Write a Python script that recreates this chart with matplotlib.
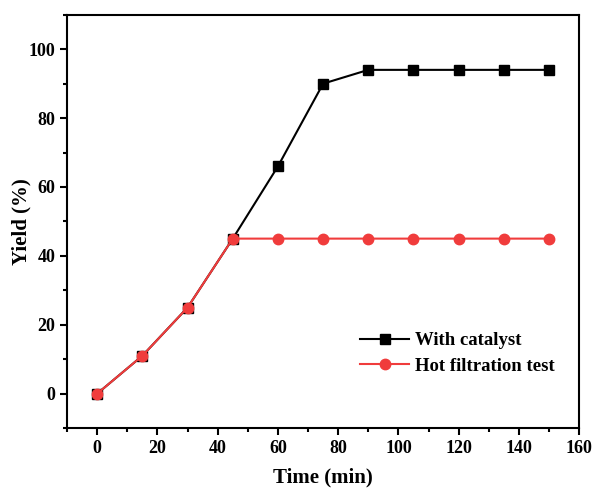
import matplotlib.pyplot as plt
from matplotlib.ticker import MultipleLocator

plt.rcParams['font.family'] = ['Liberation Serif', 'DejaVu Serif']
plt.rcParams['font.weight'] = 'bold'

time = [0, 15, 30, 45, 60, 75, 90, 105, 120, 135, 150]
with_catalyst = [0, 11, 25, 45, 66, 90, 94, 94, 94, 94, 94]
hot_filtration = [0, 11, 25, 45, 45, 45, 45, 45, 45, 45, 45]

fig = plt.figure(figsize=(5.94, 4.92), dpi=100)
ax = fig.add_axes([0.113, 0.13, 0.862, 0.84])

ax.plot(time, with_catalyst, color='black', marker='s', markersize=7,
        linewidth=1.5, label='With catalyst')
ax.plot(time, hot_filtration, color='#f03c3c', marker='o', markersize=7.5,
        linewidth=1.5, label='Hot filtration test')

ax.set_xlim(-10, 160)
ax.set_ylim(-10, 110)
ax.xaxis.set_major_locator(MultipleLocator(20))
ax.xaxis.set_minor_locator(MultipleLocator(10))
ax.yaxis.set_major_locator(MultipleLocator(20))
ax.yaxis.set_minor_locator(MultipleLocator(10))
ax.set_yticks([0, 20, 40, 60, 80, 100])

for s in ax.spines.values():
    s.set_linewidth(1.5)
ax.tick_params(which='major', direction='out', length=5, width=1.5, labelsize=13)
ax.tick_params(which='minor', direction='out', length=3, width=1.5)
for lab in ax.get_xticklabels() + ax.get_yticklabels():
    lab.set_fontweight('bold')

ax.set_xlabel('Time (min)', fontsize=15, fontweight='bold', labelpad=8)
ax.set_ylabel('Yield (%)', fontsize=15, fontweight='bold', labelpad=-2)

ax.legend(loc='lower right', bbox_to_anchor=(0.985, 0.088), frameon=False,
          handlelength=2.6, handletextpad=0.3, labelspacing=0.45,
          prop={'weight': 'bold', 'size': 13.5})

fig.savefig('out.png', dpi=100)
